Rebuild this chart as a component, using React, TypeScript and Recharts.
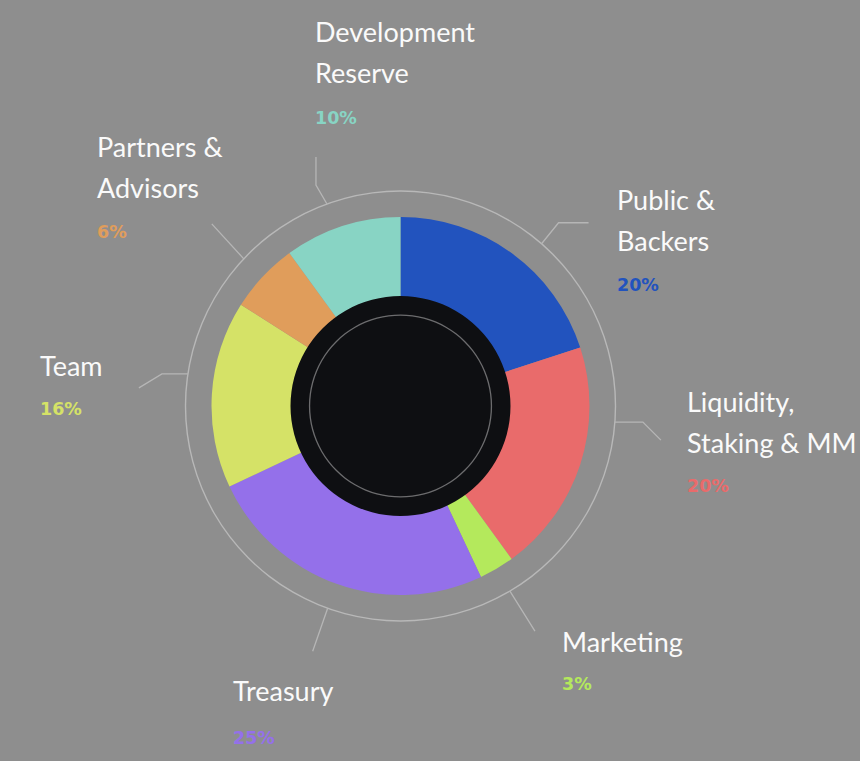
import { PieChart, Pie, Cell } from 'recharts';

const categories = [
  'Public & Backers',
  'Liquidity, Staking & MM',
  'Marketing',
  'Treasury',
  'Team',
  'Partners & Advisors',
  'Development Reserve',
];
const shares = [20, 20, 3, 25, 16, 6, 10];
const colors = ['#2253be', '#e96b6b', '#b4e95c', '#9470ea', '#d5e267', '#e09d5b', '#88d4c4'];
const labelLines = [
  ['Public &', 'Backers'],
  ['Liquidity,', 'Staking & MM'],
  ['Marketing'],
  ['Treasury'],
  ['Team'],
  ['Partners &', 'Advisors'],
  ['Development', 'Reserve'],
];

// label placement, relative to the pie centre
const labelLayout = [
  { tx: 216.5, ty: -196, pctDy: 40, shift: -5, steps: [[17, -21], [30, 0]] },
  { tx: 286.5, ty: 6, pctDy: 39, shift: 13.7, steps: [[28, 0], [18, 18]] },
  { tx: 161.5, ty: 246, pctDy: 38, shift: 0, steps: [[25, 40]] },
  { tx: -167.5, ty: 295, pctDy: 43, shift: 0, steps: [[-15, 43]] },
  { tx: -360.5, ty: -30, pctDy: 39, shift: -5, steps: [[-26, 0], [-23, 14]] },
  { tx: -303.5, ty: -249, pctDy: 40, shift: 0, steps: [[-32, -35]] },
  { tx: -85.5, ty: -364, pctDy: 41, shift: 2, steps: [[-11, -19], [0, -28]] },
];

const RING_R = 215;
const LINE_GAP = 41;

const chartData = categories.map((name, i) => ({ name, value: shares[i] }));
const fullCircle = [{ name: 'ring', value: 1 }];

const renderLabel = (props: any) => {
  const { cx, cy, midAngle, index } = props;
  const lay = labelLayout[index];
  const a = ((midAngle + lay.shift) * Math.PI) / 180;
  let x = cx + RING_R * Math.cos(a);
  let y = cy - RING_R * Math.sin(a);
  const pts = [`${x},${y}`];
  lay.steps.forEach(([dx, dy]) => {
    x += dx;
    y += dy;
    pts.push(`${x},${y}`);
  });
  const lines = labelLines[index];
  const tx = cx + lay.tx;
  const ty = cy + lay.ty;
  return (
    <g key={`lbl-${index}`}>
      <polyline points={pts.join(' ')} fill="none" stroke="#b6b6b6" strokeWidth={1.3} />
      <text x={tx} y={ty} fill="#fafafa" fontFamily="Lato, sans-serif" fontSize={27}>
        {lines.map((l, i) => (
          <tspan key={i} x={tx} dy={i === 0 ? 0 : LINE_GAP}>
            {l}
          </tspan>
        ))}
      </text>
      <text
        x={tx}
        y={ty + (lines.length - 1) * LINE_GAP + lay.pctDy}
        fill={colors[index]}
        fontFamily="'DejaVu Sans', sans-serif"
        fontWeight="bold"
        fontSize={17.5}
      >
        {shares[index]}%
      </text>
    </g>
  );
};

export default function App() {
  return (
    <div style={{ position: 'absolute', left: 0, top: 0, width: 860, height: 761, background: '#8e8e8e' }}>
      <PieChart width={860} height={761} margin={{ top: 0, right: 0, bottom: 0, left: 0 }}>
        <Pie
          data={fullCircle}
          dataKey="value"
          cx={400.5}
          cy={406}
          innerRadius={214.3}
          outerRadius={215.7}
          startAngle={90}
          endAngle={-270}
          fill="#b8b8b8"
          stroke="none"
          isAnimationActive={false}
        />
        <Pie
          data={chartData}
          dataKey="value"
          nameKey="name"
          cx={400.5}
          cy={406}
          innerRadius={100}
          outerRadius={189}
          startAngle={90}
          endAngle={-270}
          stroke="none"
          label={renderLabel}
          labelLine={false}
          isAnimationActive={false}
        >
          {chartData.map((d, i) => (
            <Cell key={d.name} fill={colors[i]} />
          ))}
        </Pie>
        <Pie
          data={fullCircle}
          dataKey="value"
          cx={400.5}
          cy={406}
          innerRadius={0}
          outerRadius={110}
          startAngle={90}
          endAngle={-270}
          fill="#0e0f12"
          stroke="none"
          isAnimationActive={false}
        />
        <Pie
          data={fullCircle}
          dataKey="value"
          cx={400.5}
          cy={406}
          innerRadius={90.3}
          outerRadius={91.6}
          startAngle={90}
          endAngle={-270}
          fill="#6c6c6e"
          stroke="none"
          isAnimationActive={false}
        />
      </PieChart>
    </div>
  );
}
